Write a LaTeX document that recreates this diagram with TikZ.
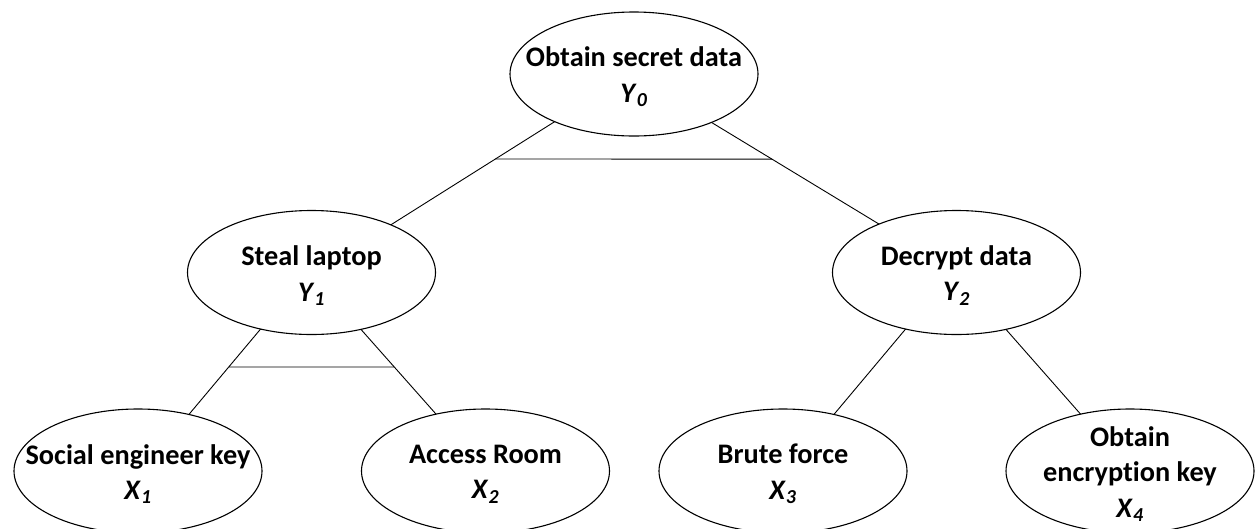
\documentclass[tikz,border=0pt]{standalone}
\usepackage{fontspec}
\setmainfont{Carlito}[Ligatures=NoCommon]
\usetikzlibrary{shapes.geometric,calc}
\newcommand\vlab[2]{\textit{#1}\textsubscript{\textit{#2}}}
\begin{document}
\begin{tikzpicture}[x=1pt,y=-1pt,
  ell/.style={draw, ellipse, minimum width=248pt, minimum height=124pt, inner sep=0pt, outer sep=0pt, line width=1.1pt},
  lbl/.style={align=center, font=\fontsize{28.3}{35.5}\selectfont\bfseries, inner sep=0pt, yshift=-3pt},
  conn/.style={line width=0.9pt}]
\useasboundingbox[fill=white] (0,0) rectangle (1255,528);
% ellipses
\node[ell] (Y0) at (634,74) {};
\node[ell] (Y1) at (311.5,272.5) {};
\node[ell] (Y2) at (956.5,272.5) {};
\node[ell] (X1) at (138,471) {};
\node[ell] (X2) at (485.5,471) {};
\node[ell] (X3) at (783,471) {};
\node[ell] (X4) at (1130,471) {};
% texts
\node[lbl] (tY0) at (Y0.center) {Obtain secret data\\\vlab{Y}{0}};
\node[lbl] (tY1) at (Y1.center) {Steal laptop\\\vlab{Y}{1}};
\node[lbl] (tY2) at (Y2.center) {Decrypt data\\\vlab{Y}{2}};
\node[lbl] (tX1) at (X1.center) {Social engineer key\\\vlab{X}{1}};
\node[lbl] (tX2) at (X2.center) {Access Room\\\vlab{X}{2}};
\node[lbl] (tX3) at (X3.center) {Brute force\\\vlab{X}{3}};
\node[lbl] (tX4) at (X4.center) {Obtain\\encryption key\\\vlab{X}{4}};
% connectors
\draw[conn] (Y0.211.2) -- (Y1.31.2);
\draw[conn] (Y0.328.8) -- (Y2.148.8);
\draw[conn] ($(Y0.211.2)!0.3615!(Y1.31.2)$) -- ($(Y0.328.8)!0.3615!(Y2.148.8)$);
\draw[conn] (Y1.228.6) -- (X1.48.6);
\draw[conn] (Y1.311.4) -- (X2.131.4);
\draw[conn] ($(Y1.228.6)!0.444!(X1.48.6)$) -- ($(Y1.311.4)!0.444!(X2.131.4)$);
\draw[conn] (Y2.228.6) -- (X3.48.6);
\draw[conn] (Y2.311.4) -- (X4.131.4);
\end{tikzpicture}
\end{document}
